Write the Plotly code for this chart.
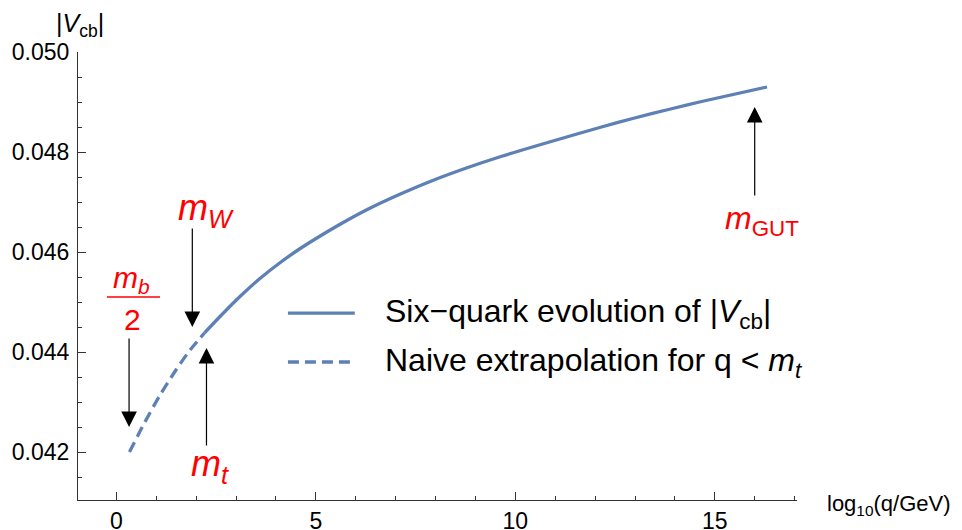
import plotly.graph_objects as go

# --- data ---
x_naive = [0.33, 0.71, 1.09, 1.47, 1.84, 2.22]
y_naive = [0.04200, 0.04259, 0.04313, 0.04361, 0.04403, 0.04439]

x_six = [2.22, 2.60, 3.10, 3.60, 4.11, 4.61, 5.11, 5.62, 6.29, 7.12, 7.96, 8.81,
         9.64, 10.47, 11.33, 12.16, 12.99, 13.84, 14.67, 16.31]
y_six = [0.04439, 0.04471, 0.04511, 0.04547, 0.04579, 0.04607, 0.04632, 0.04656,
         0.04685, 0.04716, 0.04744, 0.04769, 0.04791, 0.04811, 0.04831, 0.04850,
         0.04868, 0.04885, 0.04901, 0.04930]

x_ticks = [0, 5, 10, 15]
y_ticks = [0.042, 0.044, 0.046, 0.048, 0.050]
y_tick_labels = ["0.042", "0.044", "0.046", "0.048", "0.050"]

# scale markers: log10 of mb/2, mW, mt, mGUT
marker_x = {"mb2": 0.32, "mW": 1.905, "mt": 2.26, "mGUT": 16.0}

LINE = "#5E81B5"
RED = "#FF0000"
FONT = "Liberation Sans, Arial, sans-serif"

fig = go.Figure()
fig.add_trace(go.Scatter(x=x_six, y=y_six, mode="lines",
                         line=dict(color=LINE, width=3.3, shape="spline", smoothing=0.8),
                         name="Six−quark evolution of |V<sub>cb</sub>|", showlegend=False))
fig.add_trace(go.Scatter(x=x_naive, y=y_naive, mode="lines",
                         line=dict(color=LINE, width=3.3, dash="11px,6px", shape="spline", smoothing=0.8),
                         name="Naive extrapolation for q < m<sub>t</sub>", showlegend=False))

ann = []
arrow_common = dict(showarrow=True, text="", arrowhead=2, arrowsize=2.6, arrowwidth=1.2,
                    arrowcolor="black", axref="pixel", ayref="pixel", xref="x", yref="y")
ann.append(dict(x=marker_x["mb2"], y=0.0425, ax=0, ay=-90, **arrow_common))
ann.append(dict(x=marker_x["mW"], y=0.0445, ax=0, ay=-100, **arrow_common))
ann.append(dict(x=marker_x["mt"], y=0.04408, ax=0, ay=99, **arrow_common))
ann.append(dict(x=marker_x["mGUT"], y=0.0489, ax=0, ay=90, **arrow_common))


def red_label(x, y, text, size):
    return dict(x=x, y=y, xref="x", yref="y", text=text, showarrow=False,
                xanchor="center", yanchor="middle",
                font=dict(color=RED, family=FONT, size=size))


ann.append(red_label(0.39, 0.04546, "<i>m<sub>b</sub></i>", 30))
ann.append(red_label(0.41, 0.04466, "2", 30))
ann.append(red_label(2.25, 0.04684, "<i>m<sub>W</sub></i>", 36))
ann.append(red_label(2.34, 0.04172, "<i>m<sub>t</sub></i>", 36))
ann.append(red_label(16.18, 0.04664, "<i>m</i><sub>GUT</sub>", 32))

# legend text
ann.append(dict(x=0.424, y=0.417, xref="paper", yref="paper", xanchor="left", yanchor="middle",
                showarrow=False, text="Six−quark evolution of |<i>V</i><sub>cb</sub>|",
                font=dict(size=32, family=FONT, color="black")))
ann.append(dict(x=0.424, y=0.308, xref="paper", yref="paper", xanchor="left", yanchor="middle",
                showarrow=False, text="Naive extrapolation for q < <i>m<sub>t</sub></i>",
                font=dict(size=32, family=FONT, color="black")))

# axis titles
ann.append(dict(x=0.0, y=1.0, xref="paper", yref="paper", xanchor="center", yanchor="bottom", yshift=9,
                xshift=2, showarrow=False, text="|<i>V</i><sub>cb</sub>|",
                font=dict(size=25, family=FONT, color="black")))
ann.append(dict(x=1.0, y=0.0, xref="paper", yref="paper", xanchor="left", yanchor="middle", xshift=28,
                yshift=-5, showarrow=False, text="log<sub>10</sub>(q/GeV)",
                font=dict(size=22, family=FONT, color="black")))

shapes = [
    dict(type="line", xref="paper", yref="paper", x0=0.0403, x1=0.114, y0=0.453, y1=0.453,
         line=dict(color=RED, width=1.5)),
    dict(type="line", xref="paper", yref="paper", x0=0.292, x1=0.385, y0=0.417, y1=0.417,
         line=dict(color=LINE, width=3.3)),
    dict(type="line", xref="paper", yref="paper", x0=0.292, x1=0.385, y0=0.308, y1=0.308,
         line=dict(color=LINE, width=3.3, dash="11px,6px")),
]

# the page adds an 8px body margin, so the figure is offset by 8px in the window
fig.update_layout(
    width=962, height=530,
    margin=dict(l=70, r=173, t=44, b=38, autoexpand=False),
    paper_bgcolor="white", plot_bgcolor="white",
    font=dict(family=FONT, size=23, color="black"),
    annotations=ann, shapes=shapes, showlegend=False,
)
fig.update_xaxes(range=[-0.96, 17.06], showgrid=False, zeroline=False, showline=True, automargin=False,
                 linecolor="#333", linewidth=1, ticks="inside", ticklen=8, tickcolor="#333",
                 tickvals=x_ticks, tickfont=dict(size=23),
                 minor=dict(dtick=1, tick0=0, ticks="inside", ticklen=4, tickcolor="#333"))
fig.update_yaxes(range=[0.04104, 0.0500], showgrid=False, zeroline=False, showline=True, automargin=False,
                 linecolor="#333", linewidth=1, ticks="inside", ticklen=8, tickcolor="#333",
                 tickvals=y_ticks, ticktext=y_tick_labels, tickfont=dict(size=23), ticklabelstandoff=3,
                 minor=dict(dtick=0.0005, tick0=0.042, ticks="inside", ticklen=4, tickcolor="#333"))

fig.write_html("out.html")
